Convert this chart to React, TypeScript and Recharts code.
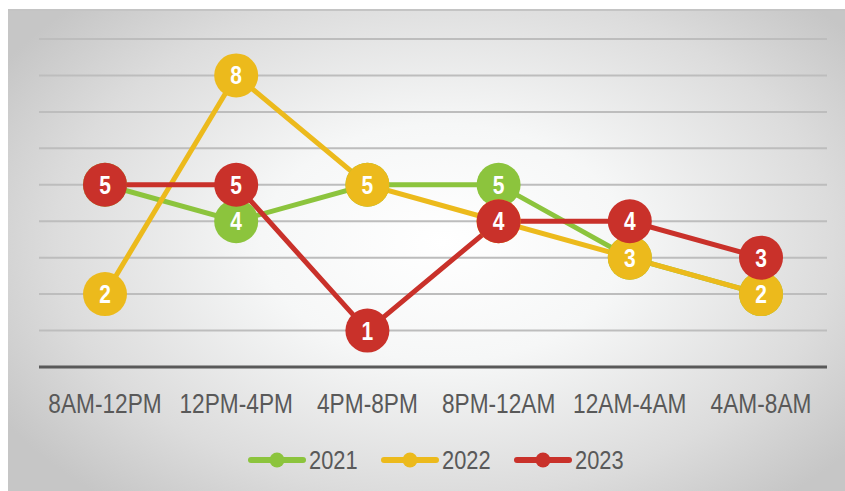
import { LineChart, Line, XAxis, YAxis, CartesianGrid } from 'recharts';

const timeSlots = ['8AM-12PM', '12PM-4PM', '4PM-8PM', '8PM-12AM', '12AM-4AM', '4AM-8AM'];
const values2021 = [5, 4, 5, 5, 3, 2];
const values2022 = [2, 8, 5, 4, 3, 2];
const values2023 = [5, 5, 1, 4, 4, 3];
const yTicks = [0, 1, 2, 3, 4, 5, 6, 7, 8, 9];

const seriesList = [
  { key: 'y2021', name: '2021', color: '#8cc43d' },
  { key: 'y2022', name: '2022', color: '#ecba1c' },
  { key: 'y2023', name: '2023', color: '#c9312a' },
];

const FONT = '"Liberation Sans", Arial, sans-serif';
// no narrow font installed, so squeeze text horizontally
const SQUEEZE = 0.84;

const makeDot = (color: string) => (props: any) => {
  const { cx, cy, value, index } = props;
  if (cx == null || cy == null) return <g key={index} />;
  return (
    <g key={index}>
      <circle cx={cx} cy={cy} r={22} fill={color} />
      <text
        transform={`translate(${cx},${cy + 9}) scale(${SQUEEZE},1)`}
        textAnchor="middle"
        fill="#ffffff"
        fontFamily={FONT}
        fontWeight={700}
        fontSize={25}
      >
        {value}
      </text>
    </g>
  );
};

const SlotTick = (props: any) => {
  const { x, y, payload } = props;
  return (
    <text
      transform={`translate(${x},${y + 38}) scale(${SQUEEZE},1)`}
      textAnchor="middle"
      fill="#595959"
      fontFamily={FONT}
      fontSize={27}
    >
      {payload.value}
    </text>
  );
};

const legendX = [248, 381, 514];

export default function App() {
  const data = timeSlots.map((slot, i) => ({
    slot,
    y2021: values2021[i],
    y2022: values2022[i],
    y2023: values2023[i],
  }));

  return (
    <div style={{ position: 'absolute', left: 0, top: 0, width: 845, height: 491, background: '#ffffff', overflow: 'hidden' }}>
      <div
        style={{
          position: 'absolute',
          left: 8,
          top: 9,
          width: 837,
          height: 482,
          borderTop: '2px solid #c4c4c4',
          background: 'radial-gradient(ellipse 62% 70% at 52% 48%, #ffffff 0%, #f6f7f7 35%, #dcdcdc 75%, #c6c6c6 100%)',
        }}
      />
      <div style={{ position: 'absolute', left: 0, top: 0 }}>
        <LineChart width={845} height={491} data={data} margin={{ top: 39, right: 18, bottom: 0, left: 39 }}>
          <CartesianGrid horizontal vertical={false} stroke="#bdbdbd" strokeWidth={2} />
          <XAxis
            dataKey="slot"
            padding={{ left: 66, right: 66 }}
            axisLine={{ stroke: '#595959', strokeWidth: 3 }}
            tickLine={false}
            height={124}
            tick={<SlotTick />}
            interval={0}
          />
          <YAxis hide domain={[0, 9]} ticks={yTicks} />
          {seriesList.map((s) => (
            <Line
              key={s.key}
              dataKey={s.key}
              name={s.name}
              stroke={s.color}
              strokeWidth={5}
              type="linear"
              dot={makeDot(s.color)}
              activeDot={false}
              isAnimationActive={false}
            />
          ))}
        </LineChart>
      </div>
      <svg style={{ position: 'absolute', left: 0, top: 0 }} width={845} height={491}>
        {seriesList.map((s, i) => {
          const x0 = legendX[i];
          return (
            <g key={s.key}>
              <line x1={x0 + 3} y1={460} x2={x0 + 55} y2={460} stroke={s.color} strokeWidth={6} strokeLinecap="round" />
              <circle cx={x0 + 29} cy={460} r={7.5} fill={s.color} />
              <text
                transform={`translate(${x0 + 61},${469}) scale(${SQUEEZE},1)`}
                fill="#595959"
                fontFamily={FONT}
                fontSize={26}
              >
                {s.name}
              </text>
            </g>
          );
        })}
      </svg>
    </div>
  );
}
